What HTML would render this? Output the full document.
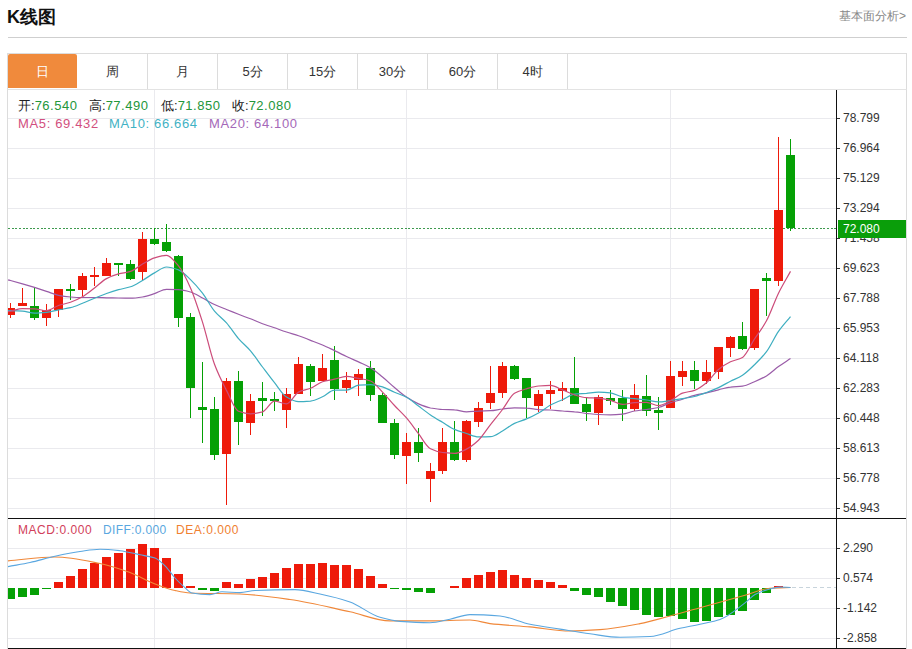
<!DOCTYPE html>
<html><head><meta charset="utf-8"><style>
html,body{margin:0;padding:0;background:#fff;}
body{width:912px;height:649px;overflow:hidden;position:relative;font-family:"Liberation Sans",sans-serif;}
.title{position:absolute;left:7px;top:5px;font-size:18px;font-weight:bold;color:#111;line-height:24px;}
.more{position:absolute;right:6px;top:8px;font-size:12px;color:#888;line-height:16px;}
.sep{position:absolute;left:8px;top:37px;width:899px;height:1px;background:#cfcfcf;}
.tabs{position:absolute;left:7px;top:53px;width:900px;height:36px;border:1px solid #dcdcdc;border-bottom:none;box-sizing:border-box;}
.tab{position:absolute;top:54px;width:70px;height:35px;line-height:35px;text-align:center;font-size:13px;color:#333;box-sizing:border-box;border-right:1px solid #dcdcdc;}
.tab.on{background:#f08a3c;color:#fff;border-right:none;height:34px;width:69px;border-radius:2px 2px 0 0;}
.frame{position:absolute;left:7px;top:89px;width:900px;height:560px;border-left:1px solid #dcdcdc;border-right:1px solid #dcdcdc;border-top:1px solid #e3e3e3;box-sizing:border-box;}
svg{position:absolute;left:0;top:0;}
.leg{position:absolute;font-size:13px;line-height:16px;white-space:nowrap;}
.k{color:#222;letter-spacing:0}.gv{color:#23963a}
</style></head><body>
<div class="title">K线图</div>
<div class="more">基本面分析&gt;</div>
<div class="sep"></div>
<div class="tabs"></div>
<div class="tab on" style="left:8px">日</div><div class="tab" style="left:78px">周</div><div class="tab" style="left:148px">月</div><div class="tab" style="left:218px">5分</div><div class="tab" style="left:288px">15分</div><div class="tab" style="left:358px">30分</div><div class="tab" style="left:428px">60分</div><div class="tab" style="left:498px">4时</div>
<div class="frame"></div>
<svg width="912" height="649" viewBox="0 0 912 649">
<g stroke="#eaeaee" stroke-width="1" shape-rendering="crispEdges">
<line x1="8" y1="118.5" x2="836" y2="118.5"/>
<line x1="8" y1="148.5" x2="836" y2="148.5"/>
<line x1="8" y1="178.5" x2="836" y2="178.5"/>
<line x1="8" y1="208.5" x2="836" y2="208.5"/>
<line x1="8" y1="238.5" x2="836" y2="238.5"/>
<line x1="8" y1="268.5" x2="836" y2="268.5"/>
<line x1="8" y1="298.5" x2="836" y2="298.5"/>
<line x1="8" y1="328.5" x2="836" y2="328.5"/>
<line x1="8" y1="358.5" x2="836" y2="358.5"/>
<line x1="8" y1="388.5" x2="836" y2="388.5"/>
<line x1="8" y1="418.5" x2="836" y2="418.5"/>
<line x1="8" y1="448.5" x2="836" y2="448.5"/>
<line x1="8" y1="478.5" x2="836" y2="478.5"/>
<line x1="8" y1="508.5" x2="836" y2="508.5"/>
<line x1="8" y1="548.5" x2="836" y2="548.5"/>
<line x1="8" y1="578.5" x2="836" y2="578.5"/>
<line x1="8" y1="608.5" x2="836" y2="608.5"/>
<line x1="8" y1="638.5" x2="836" y2="638.5"/>
<line x1="154.5" y1="90" x2="154.5" y2="648"/>
<line x1="406.5" y1="90" x2="406.5" y2="648"/>
<line x1="670.5" y1="90" x2="670.5" y2="648"/>
</g>
<line x1="8" y1="228.5" x2="836" y2="228.5" stroke="#3f9a4f" stroke-width="1" stroke-dasharray="2,1.64" shape-rendering="crispEdges"/>
<line x1="792" y1="587.5" x2="836" y2="587.5" stroke="#c8d4dc" stroke-width="1" stroke-dasharray="4,3" shape-rendering="crispEdges"/>
<defs><clipPath id="cm"><rect x="8" y="90" width="828" height="428"/></clipPath><clipPath id="cd"><rect x="8" y="519" width="828" height="129"/></clipPath></defs>
<g clip-path="url(#cm)" shape-rendering="crispEdges">
<rect x="10" y="303" width="1" height="14.6" fill="#ee1a0a"/>
<rect x="6" y="307.7" width="9" height="7.6" fill="#ee1a0a"/>
<rect x="22" y="288.2" width="1" height="17.8" fill="#ee1a0a"/>
<rect x="18" y="303" width="9" height="3" fill="#ee1a0a"/>
<rect x="34" y="286.7" width="1" height="33" fill="#05a005"/>
<rect x="30" y="306" width="9" height="12.4" fill="#05a005"/>
<rect x="46" y="303.9" width="1" height="21.6" fill="#ee1a0a"/>
<rect x="42" y="310" width="9" height="8.4" fill="#ee1a0a"/>
<rect x="58" y="288.5" width="1" height="28.1" fill="#ee1a0a"/>
<rect x="54" y="288.5" width="9" height="21.9" fill="#ee1a0a"/>
<rect x="70" y="284" width="1" height="15.7" fill="#05a005"/>
<rect x="66" y="289" width="9" height="2" fill="#05a005"/>
<rect x="82" y="273" width="1" height="22.5" fill="#ee1a0a"/>
<rect x="78" y="275.5" width="9" height="14.1" fill="#ee1a0a"/>
<rect x="94" y="266.7" width="1" height="19.1" fill="#ee1a0a"/>
<rect x="90" y="275" width="9" height="2" fill="#ee1a0a"/>
<rect x="106" y="258.2" width="1" height="18.2" fill="#ee1a0a"/>
<rect x="102" y="263" width="9" height="13.4" fill="#ee1a0a"/>
<rect x="118" y="263" width="1" height="13" fill="#05a005"/>
<rect x="114" y="263" width="9" height="2" fill="#05a005"/>
<rect x="130" y="260.4" width="1" height="19.6" fill="#05a005"/>
<rect x="126" y="263.6" width="9" height="15" fill="#05a005"/>
<rect x="142" y="232" width="1" height="48.5" fill="#ee1a0a"/>
<rect x="138" y="239" width="9" height="33" fill="#ee1a0a"/>
<rect x="154" y="227.5" width="1" height="17" fill="#05a005"/>
<rect x="150" y="239" width="9" height="4.8" fill="#05a005"/>
<rect x="166" y="224.2" width="1" height="27.5" fill="#05a005"/>
<rect x="162" y="242" width="9" height="8.6" fill="#05a005"/>
<rect x="178" y="255" width="1" height="72.4" fill="#05a005"/>
<rect x="174" y="255.8" width="9" height="61.9" fill="#05a005"/>
<rect x="190" y="312.8" width="1" height="105" fill="#05a005"/>
<rect x="186" y="317" width="9" height="71.2" fill="#05a005"/>
<rect x="202" y="361.6" width="1" height="80.9" fill="#05a005"/>
<rect x="198" y="407.2" width="9" height="3.2" fill="#05a005"/>
<rect x="214" y="396.8" width="1" height="62.9" fill="#05a005"/>
<rect x="210" y="408.7" width="9" height="46.1" fill="#05a005"/>
<rect x="226" y="377.6" width="1" height="127.2" fill="#ee1a0a"/>
<rect x="222" y="380.8" width="9" height="72.8" fill="#ee1a0a"/>
<rect x="238" y="371" width="1" height="74" fill="#05a005"/>
<rect x="234" y="380.8" width="9" height="41.4" fill="#05a005"/>
<rect x="250" y="394.4" width="1" height="40.2" fill="#ee1a0a"/>
<rect x="246" y="401" width="9" height="21.7" fill="#ee1a0a"/>
<rect x="262" y="381.6" width="1" height="33.9" fill="#05a005"/>
<rect x="258" y="397.6" width="9" height="2.9" fill="#05a005"/>
<rect x="274" y="391.9" width="1" height="19" fill="#05a005"/>
<rect x="270" y="399.3" width="9" height="2" fill="#05a005"/>
<rect x="286" y="388" width="1" height="39.5" fill="#ee1a0a"/>
<rect x="282" y="393.9" width="9" height="16.2" fill="#ee1a0a"/>
<rect x="298" y="357" width="1" height="36.9" fill="#ee1a0a"/>
<rect x="294" y="363.9" width="9" height="30" fill="#ee1a0a"/>
<rect x="310" y="363.9" width="1" height="32.3" fill="#05a005"/>
<rect x="306" y="365.7" width="9" height="16.2" fill="#05a005"/>
<rect x="322" y="353.9" width="1" height="27.4" fill="#ee1a0a"/>
<rect x="318" y="367.7" width="9" height="13.6" fill="#ee1a0a"/>
<rect x="334" y="345.9" width="1" height="53.9" fill="#05a005"/>
<rect x="330" y="360" width="9" height="28.5" fill="#05a005"/>
<rect x="346" y="371.6" width="1" height="20.9" fill="#ee1a0a"/>
<rect x="342" y="380.2" width="9" height="7.6" fill="#ee1a0a"/>
<rect x="358" y="369.4" width="1" height="26.4" fill="#ee1a0a"/>
<rect x="354" y="373.7" width="9" height="5.9" fill="#ee1a0a"/>
<rect x="370" y="361.2" width="1" height="39.5" fill="#05a005"/>
<rect x="366" y="368.3" width="9" height="26.6" fill="#05a005"/>
<rect x="382" y="393" width="1" height="30.4" fill="#05a005"/>
<rect x="378" y="395.3" width="9" height="28.1" fill="#05a005"/>
<rect x="394" y="418.6" width="1" height="40.4" fill="#05a005"/>
<rect x="390" y="423.4" width="9" height="31.7" fill="#05a005"/>
<rect x="406" y="433.1" width="1" height="50.7" fill="#ee1a0a"/>
<rect x="402" y="442.4" width="9" height="13.4" fill="#ee1a0a"/>
<rect x="418" y="427.7" width="1" height="34.2" fill="#05a005"/>
<rect x="414" y="442.4" width="9" height="10.1" fill="#05a005"/>
<rect x="430" y="463" width="1" height="39.2" fill="#ee1a0a"/>
<rect x="426" y="470.8" width="9" height="8" fill="#ee1a0a"/>
<rect x="442" y="428" width="1" height="45.7" fill="#ee1a0a"/>
<rect x="438" y="441.5" width="9" height="29.3" fill="#ee1a0a"/>
<rect x="454" y="421.2" width="1" height="39.8" fill="#05a005"/>
<rect x="450" y="442" width="9" height="17.7" fill="#05a005"/>
<rect x="466" y="420" width="1" height="41.9" fill="#ee1a0a"/>
<rect x="462" y="420.8" width="9" height="38.9" fill="#ee1a0a"/>
<rect x="478" y="401.7" width="1" height="25.1" fill="#ee1a0a"/>
<rect x="474" y="408" width="9" height="13.7" fill="#ee1a0a"/>
<rect x="490" y="366" width="1" height="42.7" fill="#ee1a0a"/>
<rect x="486" y="393.2" width="9" height="10" fill="#ee1a0a"/>
<rect x="502" y="361.8" width="1" height="36.2" fill="#ee1a0a"/>
<rect x="498" y="366" width="9" height="27.2" fill="#ee1a0a"/>
<rect x="514" y="364.9" width="1" height="15.4" fill="#05a005"/>
<rect x="510" y="366" width="9" height="12.6" fill="#05a005"/>
<rect x="526" y="378" width="1" height="39.6" fill="#05a005"/>
<rect x="522" y="378.4" width="9" height="20" fill="#05a005"/>
<rect x="538" y="389.8" width="1" height="22.2" fill="#ee1a0a"/>
<rect x="534" y="394" width="9" height="11.9" fill="#ee1a0a"/>
<rect x="550" y="381" width="1" height="28.4" fill="#ee1a0a"/>
<rect x="546" y="390.2" width="9" height="3.5" fill="#ee1a0a"/>
<rect x="562" y="382.3" width="1" height="18.7" fill="#ee1a0a"/>
<rect x="558" y="388.2" width="9" height="2.6" fill="#ee1a0a"/>
<rect x="574" y="357" width="1" height="46.6" fill="#05a005"/>
<rect x="570" y="388" width="9" height="15.6" fill="#05a005"/>
<rect x="586" y="397" width="1" height="23.9" fill="#05a005"/>
<rect x="582" y="403.9" width="9" height="8.5" fill="#05a005"/>
<rect x="598" y="394.6" width="1" height="30.2" fill="#ee1a0a"/>
<rect x="594" y="396.6" width="9" height="16.1" fill="#ee1a0a"/>
<rect x="610" y="390.2" width="1" height="14.3" fill="#05a005"/>
<rect x="606" y="397.6" width="9" height="3" fill="#05a005"/>
<rect x="622" y="390.4" width="1" height="30.5" fill="#05a005"/>
<rect x="618" y="397.7" width="9" height="10.9" fill="#05a005"/>
<rect x="634" y="383.9" width="1" height="26.6" fill="#ee1a0a"/>
<rect x="630" y="394.8" width="9" height="14.1" fill="#ee1a0a"/>
<rect x="646" y="374.9" width="1" height="40.8" fill="#05a005"/>
<rect x="642" y="395.5" width="9" height="15.5" fill="#05a005"/>
<rect x="658" y="397" width="1" height="32.7" fill="#05a005"/>
<rect x="654" y="410" width="9" height="3" fill="#05a005"/>
<rect x="670" y="361.2" width="1" height="46.6" fill="#ee1a0a"/>
<rect x="666" y="375.9" width="9" height="31.9" fill="#ee1a0a"/>
<rect x="682" y="361.2" width="1" height="24.7" fill="#ee1a0a"/>
<rect x="678" y="370.8" width="9" height="5.8" fill="#ee1a0a"/>
<rect x="694" y="360.5" width="1" height="28.5" fill="#05a005"/>
<rect x="690" y="370.2" width="9" height="11.1" fill="#05a005"/>
<rect x="706" y="360" width="1" height="24.3" fill="#ee1a0a"/>
<rect x="702" y="372.3" width="9" height="8.2" fill="#ee1a0a"/>
<rect x="718" y="346.6" width="1" height="32.3" fill="#ee1a0a"/>
<rect x="714" y="347.4" width="9" height="24.3" fill="#ee1a0a"/>
<rect x="730" y="335.8" width="1" height="20.8" fill="#ee1a0a"/>
<rect x="726" y="337.3" width="9" height="10.4" fill="#ee1a0a"/>
<rect x="742" y="322.4" width="1" height="28" fill="#05a005"/>
<rect x="738" y="336.1" width="9" height="12.5" fill="#05a005"/>
<rect x="754" y="288.5" width="1" height="61.1" fill="#ee1a0a"/>
<rect x="750" y="289.4" width="9" height="59" fill="#ee1a0a"/>
<rect x="766" y="273.1" width="1" height="42.5" fill="#05a005"/>
<rect x="762" y="278.1" width="9" height="3.2" fill="#05a005"/>
<rect x="778" y="136.8" width="1" height="149.2" fill="#ee1a0a"/>
<rect x="774" y="209.6" width="9" height="71.3" fill="#ee1a0a"/>
<rect x="790" y="138.6" width="1" height="92.5" fill="#05a005"/>
<rect x="786" y="155" width="9" height="73" fill="#05a005"/>
</g>
<g clip-path="url(#cm)">
<path d="M8,279.8 C8.8,280 9.7,280.3 10.5,280.5 C14.5,281.6 18.5,282.7 22.5,283.8 C26.5,284.9 30.5,286.1 34.5,287.4 C38.5,288.7 42.5,290.1 46.5,291.4 C50.5,292.7 54.5,294.6 58.5,295.4 C62.5,296.2 66.5,296.7 70.5,297 C74.5,297.3 78.5,297.5 82.5,297.5 C86.5,297.5 90.5,297.5 94.5,297.5 C98.5,297.5 102.5,297.7 106.5,297.8 C110.5,297.9 114.5,297.9 118.5,298 C122.5,298.1 126.5,298.2 130.5,298.2 C134.5,298.2 138.5,297.6 142.5,297 C146.5,296.4 150.5,294.9 154.5,293.6 C158.5,292.3 162.5,289.4 166.5,289.4 C170.5,289.4 174.5,289.5 178.5,289.7 C182.5,289.9 186.5,290.9 190.5,292 C194.5,293.1 198.5,295.9 202.5,298 C206.5,300.1 210.5,302.6 214.5,304.5 C218.5,306.4 222.5,307.9 226.5,309.5 C230.5,311.1 234.5,312.6 238.5,314.2 C242.5,315.7 246.5,317.2 250.5,318.8 C254.5,320.4 258.5,322.2 262.5,323.7 C266.5,325.2 270.5,326.5 274.5,327.8 C278.5,329.2 282.5,330.7 286.5,332 C290.5,333.4 294.5,334.4 298.5,335.8 C302.5,337.2 306.5,338.8 310.5,340.4 C314.5,341.9 318.5,343.3 322.5,345 C326.5,346.7 330.5,348.7 334.5,350.6 C338.5,352.6 342.5,354.6 346.5,356.5 C350.5,358.4 354.5,360.1 358.5,361.9 C362.5,363.8 366.5,365.4 370.5,367.7 C374.5,370.1 378.5,373.7 382.5,377 C386.5,380.2 390.5,384.2 394.5,387.5 C398.5,390.9 402.5,394.5 406.5,397.1 C410.5,399.8 414.5,402.2 418.5,403.9 C422.5,405.6 426.5,407.2 430.5,408 C434.5,408.7 438.5,409.4 442.5,409.5 C446.5,409.7 450.5,409.6 454.5,409.8 C458.5,409.9 462.5,411.8 466.5,411.8 C470.5,411.8 474.5,411.2 478.5,411.1 C482.5,410.9 486.5,410.9 490.5,410.7 C494.5,410.5 498.5,409.4 502.5,409 C506.5,408.5 510.5,407.8 514.5,407.8 C518.5,407.8 522.5,407.9 526.5,408.1 C530.5,408.2 534.5,409.3 538.5,409.6 C542.5,409.8 546.5,409.8 550.5,410 C554.5,410.2 558.5,410.7 562.5,411 C566.5,411.3 570.5,411.4 574.5,411.8 C578.5,412.1 582.5,412.9 586.5,413.4 C590.5,413.8 594.5,414.4 598.5,414.5 C602.5,414.7 606.5,414.8 610.5,414.8 C614.5,414.8 618.5,414.5 622.5,414.1 C626.5,413.7 630.5,411.7 634.5,411 C638.5,410.4 642.5,410.1 646.5,409.5 C650.5,408.9 654.5,408.4 658.5,407.5 C662.5,406.6 666.5,404.1 670.5,402.8 C674.5,401.4 678.5,400.5 682.5,399.2 C686.5,398 690.5,396.3 694.5,395.3 C698.5,394.3 702.5,393.8 706.5,392.9 C710.5,392 714.5,390.8 718.5,389.8 C722.5,388.9 726.5,387.5 730.5,387.1 C734.5,386.6 738.5,386.7 742.5,386.2 C746.5,385.7 750.5,383.4 754.5,381.7 C758.5,380 762.5,378.3 766.5,375.9 C770.5,373.5 774.5,369.5 778.5,366.6 C782.5,363.8 786.5,361.2 790.5,358.5" fill="none" stroke="#9a5ca8" stroke-width="1.2"/>
<path d="M8,310.6 C8.8,310.6 9.7,310.7 10.5,310.7 C14.5,310.8 18.5,310.9 22.5,311.1 C26.5,311.3 30.5,313.2 34.5,313.2 C38.5,313.2 42.5,312.8 46.5,312.4 C50.5,312 54.5,310.6 58.5,309.8 C62.5,309 66.5,308.7 70.5,307.7 C74.5,306.7 78.5,304.8 82.5,303.2 C86.5,301.6 90.5,299.8 94.5,298.2 C98.5,296.6 102.5,294.9 106.5,293.5 C110.5,292.1 114.5,290.8 118.5,289.7 C122.5,288.6 126.5,288.1 130.5,286.8 C134.5,285.5 138.5,282.7 142.5,280.4 C146.5,278.1 150.5,275.1 154.5,272.9 C158.5,270.7 162.5,267 166.5,267 C170.5,267 174.5,268.4 178.5,269.9 C182.5,271.4 186.5,275.9 190.5,279.6 C194.5,283.4 198.5,288 202.5,293.1 C206.5,298.3 210.5,306.4 214.5,311.1 C218.5,315.9 222.5,318.4 226.5,322.9 C230.5,327.4 234.5,334 238.5,338.6 C242.5,343.2 246.5,346.2 250.5,350.9 C254.5,355.5 258.5,361.7 262.5,367 C266.5,372.3 270.5,377.7 274.5,382.7 C278.5,387.7 282.5,394.7 286.5,397.1 C290.5,399.4 294.5,401.7 298.5,401.7 C302.5,401.7 306.5,401.4 310.5,401.1 C314.5,400.7 318.5,398.5 322.5,396.8 C326.5,395.1 330.5,390.2 334.5,390.2 C338.5,390.1 342.5,390.1 346.5,390.1 C350.5,390.1 354.5,385.6 358.5,385.2 C362.5,384.9 366.5,384.6 370.5,384.6 C374.5,384.6 378.5,385.9 382.5,386.9 C386.5,388 390.5,390.6 394.5,392.3 C398.5,394 402.5,395.1 406.5,397.2 C410.5,399.3 414.5,403.1 418.5,406 C422.5,409 426.5,412.2 430.5,414.9 C434.5,417.6 438.5,419.9 442.5,422.3 C446.5,424.7 450.5,427.7 454.5,429.4 C458.5,431.1 462.5,432.2 466.5,433.5 C470.5,434.7 474.5,436.9 478.5,436.9 C482.5,436.9 486.5,436.9 490.5,436.7 C494.5,436.6 498.5,433.2 502.5,431 C506.5,428.8 510.5,425.2 514.5,423.4 C518.5,421.5 522.5,420.6 526.5,418.9 C530.5,417.3 534.5,415.4 538.5,413.1 C542.5,410.8 546.5,407.2 550.5,405 C554.5,402.9 558.5,401.5 562.5,399.7 C566.5,397.9 570.5,394.6 574.5,394.1 C578.5,393.6 582.5,393.6 586.5,393.3 C590.5,392.9 594.5,392.1 598.5,392.1 C602.5,392.1 606.5,392.4 610.5,392.9 C614.5,393.3 618.5,396.3 622.5,397.1 C626.5,397.9 630.5,398.3 634.5,398.7 C638.5,399.2 642.5,399.5 646.5,400 C650.5,400.5 654.5,401.9 658.5,401.9 C662.5,401.9 666.5,401 670.5,400.5 C674.5,399.9 678.5,399.4 682.5,398.7 C686.5,398.1 690.5,397.5 694.5,396.5 C698.5,395.5 702.5,394 706.5,392.5 C710.5,391 714.5,389.4 718.5,387.6 C722.5,385.7 726.5,383.3 730.5,381.2 C734.5,379.2 738.5,377.8 742.5,375.2 C746.5,372.7 750.5,368.6 754.5,364.7 C758.5,360.8 762.5,357 766.5,351.7 C770.5,346.5 774.5,337.1 778.5,331.4 C782.5,325.7 786.5,321.5 790.5,316.6" fill="none" stroke="#3eaec0" stroke-width="1.2"/>
<path d="M8,311.6 C8.8,311.4 9.7,311.3 10.5,311.1 C14.5,310.3 18.5,308.6 22.5,308.6 C26.5,308.6 30.5,308.7 34.5,308.8 C38.5,308.9 42.5,310.7 46.5,310.7 C50.5,310.7 54.5,306.9 58.5,305.5 C62.5,304.2 66.5,303.6 70.5,302.2 C74.5,300.8 78.5,298.9 82.5,296.7 C86.5,294.4 90.5,291 94.5,288 C98.5,285 102.5,280.7 106.5,278.6 C110.5,276.5 114.5,275 118.5,273.9 C122.5,272.8 126.5,272.7 130.5,271.4 C134.5,270.2 138.5,266.4 142.5,264.1 C146.5,261.9 150.5,259.1 154.5,257.9 C158.5,256.7 162.5,255.4 166.5,255.4 C170.5,255.4 174.5,261.2 178.5,265.9 C182.5,270.7 186.5,278.9 190.5,287.9 C194.5,296.8 198.5,309.5 202.5,322.1 C206.5,334.7 210.5,353.6 214.5,364.3 C218.5,375.1 222.5,382.7 226.5,390.4 C230.5,398.1 234.5,409.8 238.5,411.3 C242.5,412.8 246.5,413.8 250.5,413.8 C254.5,413.8 258.5,413 262.5,411.9 C266.5,410.7 270.5,401.1 274.5,401.1 C278.5,401.1 282.5,403.8 286.5,403.8 C290.5,403.8 294.5,394 298.5,392.1 C302.5,390.2 306.5,389.9 310.5,388.3 C314.5,386.7 318.5,382.9 322.5,381.7 C326.5,380.5 330.5,380.1 334.5,379.2 C338.5,378.3 342.5,376.4 346.5,376.4 C350.5,376.4 354.5,377.7 358.5,378.4 C362.5,379.1 366.5,379.6 370.5,381 C374.5,382.4 378.5,388.1 382.5,392.1 C386.5,396.2 390.5,401.2 394.5,405.5 C398.5,409.7 402.5,413.3 406.5,417.9 C410.5,422.5 414.5,428.5 418.5,433.7 C422.5,438.8 426.5,446.9 430.5,448.8 C434.5,450.8 438.5,452 442.5,452.5 C446.5,452.9 450.5,453.4 454.5,453.4 C458.5,453.4 462.5,451 466.5,449.1 C470.5,447.1 474.5,443.9 478.5,440.2 C482.5,436.4 486.5,429.7 490.5,424.6 C494.5,419.5 498.5,414.8 502.5,409.5 C506.5,404.3 510.5,395.7 514.5,393.3 C518.5,391 522.5,390 526.5,388.8 C530.5,387.7 534.5,386.4 538.5,386 C542.5,385.7 546.5,385.4 550.5,385.4 C554.5,385.4 558.5,388.3 562.5,389.9 C566.5,391.4 570.5,393.7 574.5,394.9 C578.5,396.1 582.5,397.4 586.5,397.7 C590.5,398 594.5,397.9 598.5,398.2 C602.5,398.5 606.5,399.4 610.5,400.3 C614.5,401.2 618.5,404.4 622.5,404.4 C626.5,404.4 630.5,402.8 634.5,402.6 C638.5,402.4 642.5,402.3 646.5,402.3 C650.5,402.3 654.5,405.6 658.5,405.6 C662.5,405.6 666.5,402.7 670.5,400.7 C674.5,398.7 678.5,394.4 682.5,393.1 C686.5,391.8 690.5,391.7 694.5,390.4 C698.5,389.1 702.5,385.9 706.5,382.7 C710.5,379.4 714.5,372.8 718.5,369.5 C722.5,366.3 726.5,363.7 730.5,361.8 C734.5,359.9 738.5,359.8 742.5,357.4 C746.5,355 750.5,345.1 754.5,339 C758.5,332.9 762.5,328.1 766.5,320.8 C770.5,313.5 774.5,301.4 778.5,293.2 C782.5,285.1 786.5,278.7 790.5,271.4" fill="none" stroke="#cc4c7a" stroke-width="1.2"/>
</g>
<g clip-path="url(#cd)" shape-rendering="crispEdges">
<rect x="6" y="587.7" width="9" height="11" fill="#05a005"/>
<rect x="18" y="587.7" width="9" height="8.8" fill="#05a005"/>
<rect x="30" y="587.7" width="9" height="6.9" fill="#05a005"/>
<rect x="42" y="587.7" width="9" height="1.5" fill="#05a005"/>
<rect x="54" y="581.7" width="9" height="6" fill="#ee1a0a"/>
<rect x="66" y="576.2" width="9" height="11.5" fill="#ee1a0a"/>
<rect x="78" y="569.4" width="9" height="18.3" fill="#ee1a0a"/>
<rect x="90" y="563" width="9" height="24.7" fill="#ee1a0a"/>
<rect x="102" y="557" width="9" height="30.7" fill="#ee1a0a"/>
<rect x="114" y="552.6" width="9" height="35.1" fill="#ee1a0a"/>
<rect x="126" y="548.8" width="9" height="38.9" fill="#ee1a0a"/>
<rect x="138" y="543.9" width="9" height="43.8" fill="#ee1a0a"/>
<rect x="150" y="548.2" width="9" height="39.5" fill="#ee1a0a"/>
<rect x="162" y="557.6" width="9" height="30.1" fill="#ee1a0a"/>
<rect x="174" y="574" width="9" height="13.7" fill="#ee1a0a"/>
<rect x="186" y="586.3" width="9" height="1.4" fill="#ee1a0a"/>
<rect x="198" y="587.7" width="9" height="1.8" fill="#05a005"/>
<rect x="210" y="587.7" width="9" height="3.3" fill="#05a005"/>
<rect x="222" y="581.7" width="9" height="6" fill="#ee1a0a"/>
<rect x="234" y="584.4" width="9" height="3.3" fill="#ee1a0a"/>
<rect x="246" y="578.9" width="9" height="8.8" fill="#ee1a0a"/>
<rect x="258" y="576.7" width="9" height="11" fill="#ee1a0a"/>
<rect x="270" y="572.9" width="9" height="14.8" fill="#ee1a0a"/>
<rect x="282" y="568.2" width="9" height="19.5" fill="#ee1a0a"/>
<rect x="294" y="563.9" width="9" height="23.8" fill="#ee1a0a"/>
<rect x="306" y="564.1" width="9" height="23.6" fill="#ee1a0a"/>
<rect x="318" y="562.8" width="9" height="24.9" fill="#ee1a0a"/>
<rect x="330" y="564.7" width="9" height="23" fill="#ee1a0a"/>
<rect x="342" y="565.2" width="9" height="22.5" fill="#ee1a0a"/>
<rect x="354" y="568.5" width="9" height="19.2" fill="#ee1a0a"/>
<rect x="366" y="575.9" width="9" height="11.8" fill="#ee1a0a"/>
<rect x="378" y="583.9" width="9" height="3.8" fill="#ee1a0a"/>
<rect x="390" y="587.7" width="9" height="1.3" fill="#05a005"/>
<rect x="402" y="587.7" width="9" height="1.8" fill="#05a005"/>
<rect x="414" y="587.7" width="9" height="4.1" fill="#05a005"/>
<rect x="426" y="587.7" width="9" height="4.9" fill="#05a005"/>
<rect x="450" y="585.8" width="9" height="1.9" fill="#ee1a0a"/>
<rect x="462" y="578.4" width="9" height="9.3" fill="#ee1a0a"/>
<rect x="474" y="574.8" width="9" height="12.9" fill="#ee1a0a"/>
<rect x="486" y="572.1" width="9" height="15.6" fill="#ee1a0a"/>
<rect x="498" y="570.4" width="9" height="17.3" fill="#ee1a0a"/>
<rect x="510" y="574.8" width="9" height="12.9" fill="#ee1a0a"/>
<rect x="522" y="578.1" width="9" height="9.6" fill="#ee1a0a"/>
<rect x="534" y="579.5" width="9" height="8.2" fill="#ee1a0a"/>
<rect x="546" y="581.7" width="9" height="6" fill="#ee1a0a"/>
<rect x="558" y="585.2" width="9" height="2.5" fill="#ee1a0a"/>
<rect x="570" y="587.7" width="9" height="3" fill="#05a005"/>
<rect x="582" y="587.7" width="9" height="6.9" fill="#05a005"/>
<rect x="594" y="587.7" width="9" height="9.1" fill="#05a005"/>
<rect x="606" y="587.7" width="9" height="14" fill="#05a005"/>
<rect x="618" y="587.7" width="9" height="18.6" fill="#05a005"/>
<rect x="630" y="587.7" width="9" height="22.2" fill="#05a005"/>
<rect x="642" y="587.7" width="9" height="27.7" fill="#05a005"/>
<rect x="654" y="587.7" width="9" height="29.1" fill="#05a005"/>
<rect x="666" y="587.7" width="9" height="27.8" fill="#05a005"/>
<rect x="678" y="587.7" width="9" height="30.9" fill="#05a005"/>
<rect x="690" y="587.7" width="9" height="34" fill="#05a005"/>
<rect x="702" y="587.7" width="9" height="33.2" fill="#05a005"/>
<rect x="714" y="587.7" width="9" height="29.6" fill="#05a005"/>
<rect x="726" y="587.7" width="9" height="27.1" fill="#05a005"/>
<rect x="738" y="587.7" width="9" height="22.9" fill="#05a005"/>
<rect x="750" y="587.7" width="9" height="11.9" fill="#05a005"/>
<rect x="762" y="587.7" width="9" height="5.5" fill="#05a005"/>
<rect x="774" y="585.6" width="9" height="2.1" fill="#ee1a0a"/>
</g>
<g clip-path="url(#cd)">
<path d="M8,560.9 C23.7,559.6 39.3,557 55,557 C70,557 85,560.5 100,563.5 C110,565.5 120,568.9 130,572.6 C138.3,575.7 146.7,580.9 155,584 C161.7,586.5 168.3,589.1 175,590.5 C180,591.6 185,592.8 190,593 C206.7,593.7 223.3,593.4 240,594 C256.7,594.6 273.3,597.1 290,599.5 C310,602.3 330,607.5 350,611.8 C363.3,614.7 376.7,620.9 390,620.9 C403.3,620.9 416.7,620.9 430,620.9 C443.3,620.9 456.7,620 470,620 C476.7,620 483.3,622.8 490,623.6 C503.3,625.2 516.7,625.7 530,626.9 C543.3,628.1 556.7,631 570,631 C580,631 590,630.3 600,629.6 C613.3,628.7 626.7,626.1 640,623.6 C650,621.7 660,618.6 670,616 C680,613.4 690,610.5 700,607.7 C715,603.5 730,599.4 745,595.2 C753.3,592.9 761.7,588.7 770,588.2 C776.8,587.8 783.7,587.7 790.5,587.5" fill="none" stroke="#f0883a" stroke-width="1.1"/>
<path d="M8,566.6 C15.3,565.2 22.7,564.1 30,562.5 C38.3,560.7 46.7,558 55,556.2 C63.3,554.4 71.7,552.6 80,551.5 C86.7,550.6 93.3,549.3 100,549.3 C106.7,549.3 113.3,550 120,550.7 C126.7,551.4 133.3,553.4 140,554.8 C145,555.8 150,556.3 155,558 C158.3,559.2 161.7,562.6 165,565.8 C168.3,569 171.7,574.4 175,578 C178.3,581.6 181.7,584.9 185,587.7 C187.3,589.7 189.7,592.6 192,593 C198,594.1 204,594.6 210,594.6 C214,594.6 218,591.8 222,591.8 C228,591.8 234,592.6 240,592.6 C245,592.6 250,590.7 255,590.5 C268.3,589.9 281.7,589.6 295,589.6 C303.3,589.6 311.7,592.2 320,594 C330,596.1 340,598.5 350,602 C360,605.5 370,614.5 380,617.3 C386.7,619.2 393.3,620.9 400,621.4 C410,622.2 420,622.8 430,622.8 C436.7,622.8 443.3,620.5 450,619.2 C456.7,617.9 463.3,614.6 470,614.6 C480,614.6 490,615.2 500,616 C510,616.8 520,622.2 530,624.2 C540,626.2 550,627.5 560,629.1 C570,630.7 580,632.5 590,633.8 C600,635.1 610,637.3 620,637.3 C630,637.3 640,637 650,636.5 C660,636 670,630.6 680,628.3 C686.7,626.8 693.3,625.7 700,624.2 C706.7,622.7 713.3,621.8 720,619.5 C728.3,616.7 736.7,609.1 745,602.9 C748.3,600.4 751.7,596.4 755,594.6 C760,592 765,590.2 770,589 C773.3,588.2 776.7,587.1 780,587.1 C783.5,587.1 787,587.4 790.5,587.5" fill="none" stroke="#5aa7e0" stroke-width="1.1"/>
</g>
<g shape-rendering="crispEdges">
<line x1="836.5" y1="90" x2="836.5" y2="649" stroke="#111" stroke-width="1"/>
<line x1="8" y1="518.5" x2="906" y2="518.5" stroke="#111" stroke-width="1"/>
<line x1="8" y1="648.5" x2="906" y2="648.5" stroke="#111" stroke-width="1"/>
</g>
<g font-family='"Liberation Sans", sans-serif' font-size="12" fill="#333">
<line x1="837" y1="118.5" x2="840" y2="118.5" stroke="#333" shape-rendering="crispEdges"/>
<text x="843" y="122">78.799</text>
<line x1="837" y1="148.5" x2="840" y2="148.5" stroke="#333" shape-rendering="crispEdges"/>
<text x="843" y="152">76.964</text>
<line x1="837" y1="178.5" x2="840" y2="178.5" stroke="#333" shape-rendering="crispEdges"/>
<text x="843" y="182">75.129</text>
<line x1="837" y1="208.5" x2="840" y2="208.5" stroke="#333" shape-rendering="crispEdges"/>
<text x="843" y="212">73.294</text>
<line x1="837" y1="238.5" x2="840" y2="238.5" stroke="#333" shape-rendering="crispEdges"/>
<text x="843" y="242">71.458</text>
<line x1="837" y1="268.5" x2="840" y2="268.5" stroke="#333" shape-rendering="crispEdges"/>
<text x="843" y="272">69.623</text>
<line x1="837" y1="298.5" x2="840" y2="298.5" stroke="#333" shape-rendering="crispEdges"/>
<text x="843" y="302">67.788</text>
<line x1="837" y1="328.5" x2="840" y2="328.5" stroke="#333" shape-rendering="crispEdges"/>
<text x="843" y="332">65.953</text>
<line x1="837" y1="358.5" x2="840" y2="358.5" stroke="#333" shape-rendering="crispEdges"/>
<text x="843" y="362">64.118</text>
<line x1="837" y1="388.5" x2="840" y2="388.5" stroke="#333" shape-rendering="crispEdges"/>
<text x="843" y="392">62.283</text>
<line x1="837" y1="418.5" x2="840" y2="418.5" stroke="#333" shape-rendering="crispEdges"/>
<text x="843" y="422">60.448</text>
<line x1="837" y1="448.5" x2="840" y2="448.5" stroke="#333" shape-rendering="crispEdges"/>
<text x="843" y="452">58.613</text>
<line x1="837" y1="478.5" x2="840" y2="478.5" stroke="#333" shape-rendering="crispEdges"/>
<text x="843" y="482">56.778</text>
<line x1="837" y1="508.5" x2="840" y2="508.5" stroke="#333" shape-rendering="crispEdges"/>
<text x="843" y="512">54.943</text>
<line x1="837" y1="548.5" x2="840" y2="548.5" stroke="#333" shape-rendering="crispEdges"/>
<text x="843" y="552">2.290</text>
<line x1="837" y1="578.5" x2="840" y2="578.5" stroke="#333" shape-rendering="crispEdges"/>
<text x="843" y="582">0.574</text>
<line x1="837" y1="608.5" x2="840" y2="608.5" stroke="#333" shape-rendering="crispEdges"/>
<text x="843" y="612">-1.142</text>
<line x1="837" y1="638.5" x2="840" y2="638.5" stroke="#333" shape-rendering="crispEdges"/>
<text x="843" y="642">-2.858</text>
</g>
<rect x="838" y="220" width="68" height="18" fill="#0a9e0a"/>
<text x="843" y="233" font-family='"Liberation Sans", sans-serif' font-size="12" fill="#fff">72.080</text>
</svg>
<div class="leg" style="left:18px;top:98px;letter-spacing:.5px"><span class="k">开:</span><span class="gv">76.540</span></div>
<div class="leg" style="left:89px;top:98px;letter-spacing:.5px"><span class="k">高:</span><span class="gv">77.490</span></div>
<div class="leg" style="left:161px;top:98px;letter-spacing:.5px"><span class="k">低:</span><span class="gv">71.850</span></div>
<div class="leg" style="left:232px;top:98px;letter-spacing:.5px"><span class="k">收:</span><span class="gv">72.080</span></div>
<div class="leg" style="left:18px;top:116px;letter-spacing:.65px;color:#d24f7e">MA5: 69.432</div>
<div class="leg" style="left:109px;top:116px;letter-spacing:.65px;color:#3fb2c4">MA10: 66.664</div>
<div class="leg" style="left:209px;top:116px;letter-spacing:.65px;color:#a468b8">MA20: 64.100</div>
<div class="leg" style="left:18px;top:522px;font-size:12px;letter-spacing:.55px;color:#d2405a">MACD:0.000</div>
<div class="leg" style="left:103px;top:522px;font-size:12px;letter-spacing:.35px;color:#5aa7e0">DIFF:0.000</div>
<div class="leg" style="left:176px;top:522px;font-size:12px;letter-spacing:.55px;color:#f08030">DEA:0.000</div>
</body></html>
